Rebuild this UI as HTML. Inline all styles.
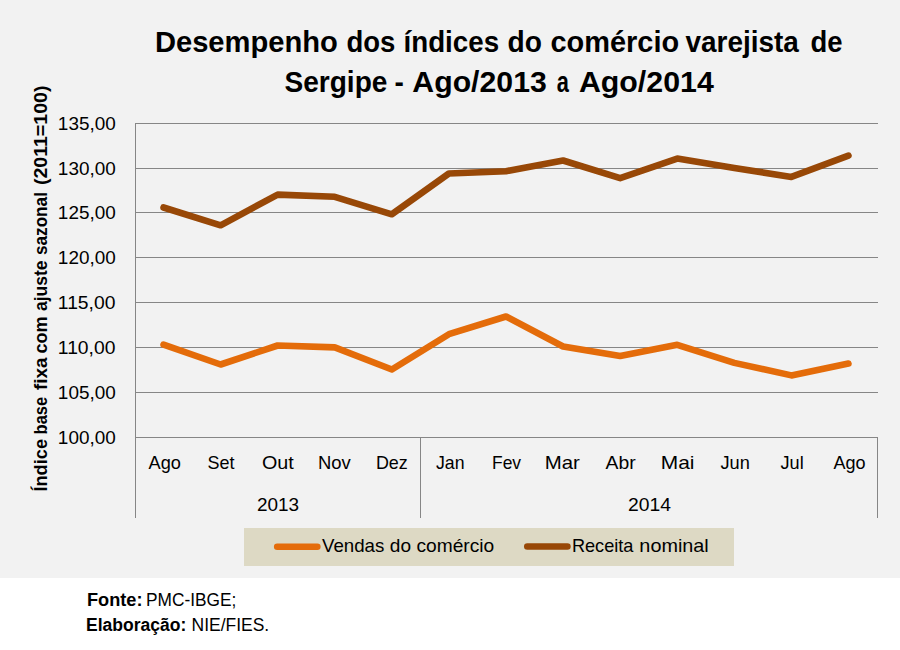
<!DOCTYPE html>
<html><head><meta charset="utf-8"><title>Desempenho dos índices do comércio varejista de Sergipe</title>
<style>
html,body{margin:0;padding:0;background:#ffffff;}
body{width:900px;height:650px;overflow:hidden;}
svg{display:block;}
text{font-family:'Liberation Sans', Arial, sans-serif;fill:#000000;}
</style></head>
<body>
<svg width="900" height="650" viewBox="0 0 900 650">
<rect x="0" y="0" width="900" height="578" fill="#f2f2f2"/>
<line x1="135" y1="123.5" x2="878" y2="123.5" stroke="#868686" stroke-width="1"/>
<line x1="135" y1="168.5" x2="878" y2="168.5" stroke="#868686" stroke-width="1"/>
<line x1="135" y1="212.5" x2="878" y2="212.5" stroke="#868686" stroke-width="1"/>
<line x1="135" y1="257.5" x2="878" y2="257.5" stroke="#868686" stroke-width="1"/>
<line x1="135" y1="302.5" x2="878" y2="302.5" stroke="#868686" stroke-width="1"/>
<line x1="135" y1="347.5" x2="878" y2="347.5" stroke="#868686" stroke-width="1"/>
<line x1="135" y1="392.5" x2="878" y2="392.5" stroke="#868686" stroke-width="1"/>
<line x1="135" y1="437.5" x2="878" y2="437.5" stroke="#868686" stroke-width="1"/>
<line x1="135.5" y1="123" x2="135.5" y2="518" stroke="#868686" stroke-width="1"/>
<line x1="420.5" y1="437" x2="420.5" y2="518" stroke="#868686" stroke-width="1"/>
<line x1="877.5" y1="437" x2="877.5" y2="518" stroke="#868686" stroke-width="1"/>
<polyline points="163.54,207.50 220.62,225.30 277.69,194.60 334.77,196.80 391.85,214.30 448.92,173.50 506.00,171.20 563.08,160.50 620.15,178.20 677.23,158.60 734.31,168.00 791.38,176.90 848.46,155.70" fill="none" stroke="#984807" stroke-width="6.6" stroke-linejoin="round" stroke-linecap="round"/>
<polyline points="163.54,344.60 220.62,364.50 277.69,345.50 334.77,347.40 391.85,369.50 448.92,334.20 506.00,316.50 563.08,346.50 620.15,356.00 677.23,344.80 734.31,362.90 791.38,375.40 848.46,363.60" fill="none" stroke="#e46c0a" stroke-width="6.6" stroke-linejoin="round" stroke-linecap="round"/>
<rect x="244" y="528" width="490" height="38" fill="#ddd9c4"/>
<line x1="277.2" y1="546.7" x2="317.3" y2="546.7" stroke="#e46c0a" stroke-width="6.6" stroke-linecap="round"/>
<line x1="527.3" y1="546.5" x2="567.4" y2="546.5" stroke="#984807" stroke-width="6.6" stroke-linecap="round"/>
<text x="154.90" y="51.7" font-size="29.7" font-weight="bold" textLength="182.97" lengthAdjust="spacingAndGlyphs">Desempenho</text>
<text x="346.50" y="51.7" font-size="29.7" font-weight="bold" textLength="48.90" lengthAdjust="spacingAndGlyphs">dos</text>
<text x="403.49" y="51.7" font-size="29.7" font-weight="bold" textLength="95.60" lengthAdjust="spacingAndGlyphs">índices</text>
<text x="507.48" y="51.7" font-size="29.7" font-weight="bold" textLength="34.39" lengthAdjust="spacingAndGlyphs">do</text>
<text x="550.46" y="51.7" font-size="29.7" font-weight="bold" textLength="128.70" lengthAdjust="spacingAndGlyphs">comércio</text>
<text x="685.50" y="51.7" font-size="29.7" font-weight="bold" textLength="113.30" lengthAdjust="spacingAndGlyphs">varejista</text>
<text x="810.49" y="51.7" font-size="29.7" font-weight="bold" textLength="32.04" lengthAdjust="spacingAndGlyphs">de</text>
<text x="284.48" y="91.5" font-size="29.7" font-weight="bold" textLength="102.95" lengthAdjust="spacingAndGlyphs">Sergipe</text>
<text x="394.45" y="91.5" font-size="29.7" font-weight="bold" textLength="9.34" lengthAdjust="spacingAndGlyphs">-</text>
<text x="412.39" y="91.5" font-size="29.7" font-weight="bold" textLength="134.38" lengthAdjust="spacingAndGlyphs">Ago/2013</text>
<text x="556.68" y="91.5" font-size="29.7" font-weight="bold" textLength="12.12" lengthAdjust="spacingAndGlyphs">a</text>
<text x="578.90" y="91.5" font-size="29.7" font-weight="bold" textLength="134.89" lengthAdjust="spacingAndGlyphs">Ago/2014</text>
<text x="57.86" y="129.8" font-size="18.6" textLength="57.89" lengthAdjust="spacingAndGlyphs">135,00</text>
<text x="57.86" y="174.8" font-size="18.6" textLength="57.89" lengthAdjust="spacingAndGlyphs">130,00</text>
<text x="57.86" y="218.8" font-size="18.6" textLength="57.89" lengthAdjust="spacingAndGlyphs">125,00</text>
<text x="57.86" y="263.8" font-size="18.6" textLength="57.89" lengthAdjust="spacingAndGlyphs">120,00</text>
<text x="57.84" y="308.8" font-size="18.6" textLength="57.62" lengthAdjust="spacingAndGlyphs">115,00</text>
<text x="57.84" y="353.8" font-size="18.6" textLength="57.62" lengthAdjust="spacingAndGlyphs">110,00</text>
<text x="57.86" y="398.8" font-size="18.6" textLength="57.89" lengthAdjust="spacingAndGlyphs">105,00</text>
<text x="57.86" y="443.8" font-size="18.6" textLength="57.89" lengthAdjust="spacingAndGlyphs">100,00</text>
<text x="148.50" y="469.4" font-size="18.6" textLength="32.39" lengthAdjust="spacingAndGlyphs">Ago</text>
<text x="207.45" y="469.4" font-size="18.6" textLength="27.00" lengthAdjust="spacingAndGlyphs">Set</text>
<text x="261.92" y="469.4" font-size="18.6" textLength="31.82" lengthAdjust="spacingAndGlyphs">Out</text>
<text x="317.93" y="469.4" font-size="18.6" textLength="32.81" lengthAdjust="spacingAndGlyphs">Nov</text>
<text x="375.93" y="469.4" font-size="18.6" textLength="31.86" lengthAdjust="spacingAndGlyphs">Dez</text>
<text x="436.00" y="469.4" font-size="18.6" textLength="28.52" lengthAdjust="spacingAndGlyphs">Jan</text>
<text x="491.99" y="469.4" font-size="18.6" textLength="29.06" lengthAdjust="spacingAndGlyphs">Fev</text>
<text x="544.79" y="469.4" font-size="18.6" textLength="35.12" lengthAdjust="spacingAndGlyphs">Mar</text>
<text x="605.49" y="469.4" font-size="18.6" textLength="30.12" lengthAdjust="spacingAndGlyphs">Abr</text>
<text x="660.72" y="469.4" font-size="18.6" textLength="33.71" lengthAdjust="spacingAndGlyphs">Mai</text>
<text x="720.46" y="469.4" font-size="18.6" textLength="29.35" lengthAdjust="spacingAndGlyphs">Jun</text>
<text x="780.50" y="469.4" font-size="18.6" textLength="23.17" lengthAdjust="spacingAndGlyphs">Jul</text>
<text x="833.46" y="469.4" font-size="18.6" textLength="32.05" lengthAdjust="spacingAndGlyphs">Ago</text>
<text x="256.97" y="510.9" font-size="18.6" textLength="42.14" lengthAdjust="spacingAndGlyphs">2013</text>
<text x="627.97" y="510.9" font-size="18.6" textLength="42.95" lengthAdjust="spacingAndGlyphs">2014</text>
<text x="322.00" y="552.3" font-size="18.6" textLength="62.32" lengthAdjust="spacingAndGlyphs">Vendas</text>
<text x="389.88" y="552.3" font-size="18.6" textLength="21.19" lengthAdjust="spacingAndGlyphs">do</text>
<text x="416.46" y="552.3" font-size="18.6" textLength="77.70" lengthAdjust="spacingAndGlyphs">comércio</text>
<text x="571.95" y="552.3" font-size="18.6" textLength="61.49" lengthAdjust="spacingAndGlyphs">Receita</text>
<text x="639.37" y="552.3" font-size="18.6" textLength="69.41" lengthAdjust="spacingAndGlyphs">nominal</text>
<text x="86.95" y="605.6" font-size="18.85" font-weight="bold" textLength="55.51" lengthAdjust="spacingAndGlyphs">Fonte:</text>
<text x="146.01" y="605.6" font-size="18.85" textLength="90.30" lengthAdjust="spacingAndGlyphs">PMC-IBGE;</text>
<text x="85.99" y="630.6" font-size="18.85" font-weight="bold" textLength="100.31" lengthAdjust="spacingAndGlyphs">Elaboração:</text>
<text x="191.50" y="630.6" font-size="18.85" textLength="77.73" lengthAdjust="spacingAndGlyphs">NIE/FIES.</text>
<g transform="translate(47.3,500.0) rotate(-90)"><text x="8.44" y="0" font-size="18.8" font-weight="bold" textLength="52.60" lengthAdjust="spacingAndGlyphs">Índice</text><text x="65.57" y="0" font-size="18.8" font-weight="bold" textLength="37.56" lengthAdjust="spacingAndGlyphs">base</text><text x="110.01" y="0" font-size="18.8" font-weight="bold" textLength="32.54" lengthAdjust="spacingAndGlyphs">fixa</text><text x="146.46" y="0" font-size="18.8" font-weight="bold" textLength="37.04" lengthAdjust="spacingAndGlyphs">com</text><text x="188.99" y="0" font-size="18.8" font-weight="bold" textLength="50.55" lengthAdjust="spacingAndGlyphs">ajuste</text><text x="245.01" y="0" font-size="18.8" font-weight="bold" textLength="62.90" lengthAdjust="spacingAndGlyphs">sazonal</text><text x="314.90" y="0" font-size="18.8" font-weight="bold" textLength="99.60" lengthAdjust="spacingAndGlyphs">(2011=100)</text></g>
</svg>
</body></html>
